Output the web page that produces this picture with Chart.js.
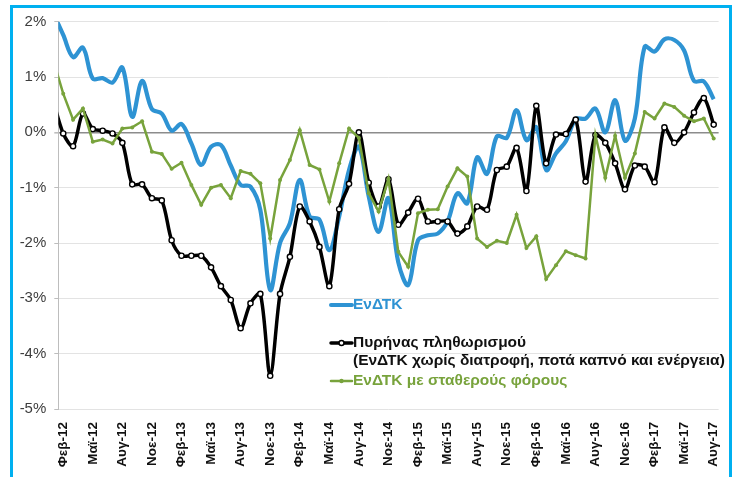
<!DOCTYPE html>
<html>
<head>
<meta charset="utf-8">
<script src="https://cdn.jsdelivr.net/npm/chart.js@4.4.1/dist/chart.umd.min.js"></script>
<style>
  html, body { margin: 0; padding: 0; background: #fff; }
  #wrap { position: relative; width: 735px; height: 477px; overflow: hidden; }
  #frame { position: absolute; left: 10px; top: 5px; width: 716px; height: 500px;
           border: 3px solid #00b0f0; border-bottom: none; pointer-events: none; }
  canvas { position: absolute; left: 0; top: 0; }
</style>
</head>
<body>
<div id="wrap">
  <canvas id="chart" width="735" height="477"></canvas>
  <div id="frame"></div>
</div>
<script>
const MONTHS = ['Ιαν', 'Φεβ', 'Μαρ', 'Απρ', 'Μαϊ', 'Ιουν', 'Ιουλ', 'Αυγ', 'Σεπ', 'Οκτ', 'Νοε', 'Δεκ'];
const YEARS = ['12', '13', '14', '15', '16', '17'];

// Ιαν-12 .. Αυγ-17 ; Ιαν-12 only shows as the short stub cut off at the y axis
const categories = [];
YEARS.forEach(y => MONTHS.forEach(m => categories.push(m + '-' + y)));
categories.length = 68;

// every 3rd month gets a label, starting at Φεβ-12
const labelIdx = [];
for (let i = 1; i < categories.length; i += 3) labelIdx.push(i);

const yTicks = [-5, -4, -3, -2, -1, 0, 1, 2];

// ΕνΔΤΚ
const hicp = [
  2.15, 1.76, 1.36, 1.53, 0.97, 0.98, 0.90, 1.17, 0.28, 0.93, 0.42, 0.34,
  0.03, 0.15, -0.20, -0.59, -0.26, -0.23, -0.60, -0.95, -0.98, -1.40, -2.85, -2.00,
  -1.64, -0.86, -1.52, -1.58, -2.13, -1.52, -0.68, -0.26, -1.16, -1.80, -1.19, -2.35,
  -2.76, -1.95, -1.86, -1.83, -1.61, -1.10, -1.28, -0.45, -0.75, -0.07, -0.10, 0.40,
  -0.14, 0.09, -0.68, -0.38, -0.16, 0.24, 0.25, 0.43, 0.00, 0.58, -0.15, 0.25,
  1.55, 1.46, 1.68, 1.67, 1.48, 0.93, 0.92, 0.60
];

// Πυρήνας πληθωρισμού
const core = [
  0.56, -0.02, -0.25, 0.34, 0.06, 0.03, -0.02, -0.19, -0.94, -0.94, -1.19, -1.23,
  -1.95, -2.23, -2.23, -2.23, -2.44, -2.78, -3.03, -3.54, -3.09, -2.92, -4.40, -2.92,
  -2.25, -1.34, -1.61, -2.07, -2.78, -1.39, -0.93, 0.00, -0.91, -1.34, -0.85, -1.67,
  -1.45, -1.20, -1.61, -1.61, -1.61, -1.83, -1.70, -1.34, -1.40, -0.68, -0.62, -0.28,
  -1.06, 0.48, -0.56, -0.04, -0.03, 0.23, -0.89, -0.05, -0.19, -0.56, -1.03, -0.60,
  -0.62, -0.90, 0.09, -0.19, 0.00, 0.36, 0.62, 0.14
];

// ΕνΔΤΚ με σταθερούς φόρους
const constTax = [
  1.30, 0.70, 0.23, 0.43, -0.17, -0.13, -0.20, 0.07, 0.09, 0.20, -0.35, -0.39,
  -0.66, -0.55, -0.95, -1.31, -1.00, -0.95, -1.19, -0.70, -0.75, -0.92, -1.92, -0.86,
  -0.50, 0.04, -0.59, -0.67, -1.25, -0.56, 0.07, -0.10, -1.10, -1.43, -0.84, -2.16,
  -2.43, -1.46, -1.40, -1.39, -0.98, -0.65, -0.80, -1.92, -2.07, -1.96, -2.00, -1.49,
  -2.09, -1.88, -2.65, -2.40, -2.15, -2.22, -2.28, -0.05, -0.82, -0.06, -0.82, -0.38,
  0.37, 0.25, 0.52, 0.46, 0.30, 0.20, 0.25, -0.11
];

const BLUE = '#2e93d3';
const BLACK = '#000000';
const GREEN = '#78a33c';
const FONT = "'Liberation Sans', Arial, sans-serif";

function pts(arr) {
  return arr.map((v, i) => ({ x: i, y: v }));
}

// legend drawn by hand, it sits inside the plot like in the original
const legendPlugin = {
  id: 'innerLegend',
  afterDatasetsDraw(chart) {
    const ctx = chart.ctx;
    const x0 = 331, x1 = 352, tx = 353;
    ctx.save();
    ctx.font = 'bold 15.5px ' + FONT;
    ctx.textBaseline = 'middle';
    ctx.lineCap = 'round';

    ctx.strokeStyle = BLUE;
    ctx.lineWidth = 4;
    ctx.beginPath(); ctx.moveTo(x0, 305); ctx.lineTo(x1, 305); ctx.stroke();
    ctx.fillStyle = BLUE;
    ctx.fillText('ΕνΔΤΚ', tx, 305);

    ctx.strokeStyle = BLACK;
    ctx.lineWidth = 3.5;
    ctx.beginPath(); ctx.moveTo(x0, 343); ctx.lineTo(x1, 343); ctx.stroke();
    ctx.fillStyle = '#fff';
    ctx.lineWidth = 1.5;
    ctx.beginPath(); ctx.arc((x0 + x1) / 2, 343, 2.5, 0, Math.PI * 2); ctx.fill(); ctx.stroke();
    ctx.fillStyle = '#111';
    ctx.fillText('Πυρήνας πληθωρισμού', tx, 343);
    ctx.fillText('(ΕνΔΤΚ χωρίς διατροφή, ποτά καπνό και ενέργεια)', tx, 361);

    ctx.strokeStyle = GREEN;
    ctx.lineWidth = 2.5;
    ctx.beginPath(); ctx.moveTo(x0, 381); ctx.lineTo(x1, 381); ctx.stroke();
    ctx.fillStyle = GREEN;
    ctx.beginPath(); ctx.arc((x0 + x1) / 2, 381, 2.2, 0, Math.PI * 2); ctx.fill();
    ctx.fillText('ΕνΔΤΚ με σταθερούς φόρους', tx, 381);
    ctx.restore();
  }
};

new Chart(document.getElementById('chart'), {
  type: 'line',
  data: {
    datasets: [
      {
        label: 'ΕνΔΤΚ με σταθερούς φόρους',
        data: pts(constTax),
        borderColor: GREEN,
        backgroundColor: GREEN,
        borderWidth: 2.5,
        pointRadius: 2,
        pointBorderWidth: 0,
        tension: 0,
        clip: 0,
        order: 0
      },
      {
        label: 'Πυρήνας πληθωρισμού',
        data: pts(core),
        borderColor: BLACK,
        backgroundColor: '#fff',
        borderWidth: 3.5,
        pointRadius: 2.6,
        pointBorderWidth: 1.4,
        pointBorderColor: BLACK,
        pointBackgroundColor: '#fff',
        tension: 0.3,
        clip: 0,
        order: 1
      },
      {
        label: 'ΕνΔΤΚ',
        data: pts(hicp),
        borderColor: BLUE,
        borderWidth: 4.2,
        pointRadius: 0,
        tension: 0.35,
        clip: 0,
        order: 2
      }
    ]
  },
  options: {
    responsive: false,
    animation: false,
    devicePixelRatio: 1,
    layout: { padding: { top: 21.7, right: 15, bottom: 0, left: 0 } },
    plugins: { legend: { display: false }, tooltip: { enabled: false } },
    scales: {
      x: {
        type: 'linear',
        min: 0.5,
        max: categories.length - 0.5,
        grid: { display: false },
        border: { display: false },
        afterBuildTicks: (scale) => { scale.ticks = labelIdx.map(v => ({ value: v })); },
        afterFit: (scale) => { scale.height = 68; },
        ticks: {
          autoSkip: false,
          minRotation: 90,
          maxRotation: 90,
          padding: 5,
          color: '#111',
          font: { family: FONT, size: 13.5, weight: 'bold' },
          callback: (v) => categories[v]
        }
      },
      y: {
        min: yTicks[0],
        max: yTicks[yTicks.length - 1],
        afterBuildTicks: (scale) => { scale.ticks = yTicks.map(v => ({ value: v })); },
        afterFit: (scale) => { scale.width = 58.3; },
        border: { display: true, color: '#bdbdbd', width: 1 },
        grid: {
          color: (c) => c.tick && c.tick.value === 0 ? '#8c8c8c' : '#e3e3e3',
          lineWidth: (c) => c.tick && c.tick.value === 0 ? 1.6 : 1,
          tickColor: '#bdbdbd',
          tickLength: 4
        },
        ticks: {
          padding: 8,
          color: '#3d3d3d',
          font: { family: FONT, size: 15 },
          callback: (v) => v + '%'
        }
      }
    }
  },
  plugins: [legendPlugin]
});
</script>
</body>
</html>
